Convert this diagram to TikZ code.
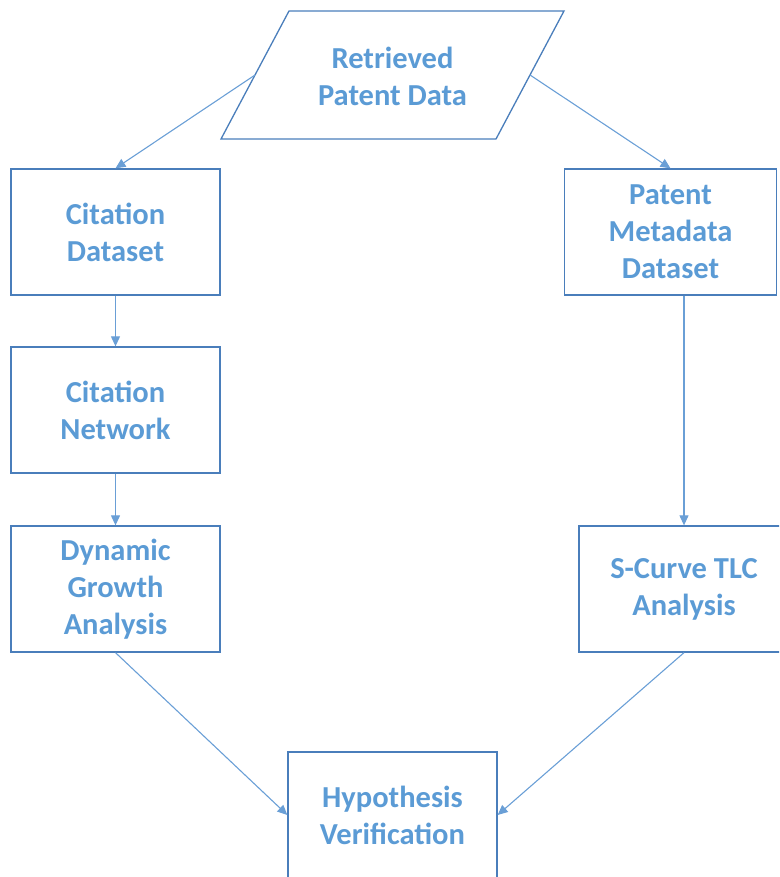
\documentclass[tikz,border=0pt]{standalone}
\usepackage{fontspec}
\setmainfont{Carlito}
\usetikzlibrary{arrows.meta}
\definecolor{boxline}{HTML}{4A7EBB}
\definecolor{arrline}{HTML}{6A9FD6}
\definecolor{txt}{HTML}{5B9BD5}
\tikzset{
  flowbox/.style={draw=boxline, line width=1.3pt, minimum width=209pt, minimum height=126pt, inner sep=0pt, align=center, text=txt, font=\fontsize{30.5}{37}\selectfont\bfseries},
  flowtext/.style={inner sep=0pt, align=center, text=txt, font=\fontsize{30.5}{37}\selectfont\bfseries},
  flowarrow/.style={draw=arrline, line width=1.1pt, -{Triangle[length=10pt,width=9pt]}}
}
\begin{document}
\begin{tikzpicture}[x=1pt,y=-1pt]
\useasboundingbox (0,0) rectangle (779,877);
\clip (0,0) rectangle (779,877);
% parallelogram
\coordinate (pTL) at (289,11);
\coordinate (pTR) at (564,11);
\coordinate (pBR) at (496,139);
\coordinate (pBL) at (221,139);
\draw[draw=boxline, line width=1.3pt] (pTL) -- (pTR) -- (pBR) -- (pBL) -- cycle;
\node[flowtext] (rpd) at (392.5,76) {Retrieved\\Patent Data};
\coordinate (rpdL) at (255,75);
\coordinate (rpdR) at (530,75);
% boxes
\node[flowbox] (cds) at (115.5,232) {Citation\\Dataset};
\node[flowbox] (cnw) at (115.5,410) {Citation\\Network};
\node[flowbox] (dga) at (115.5,589) {Dynamic\\Growth\\Analysis};
\node[flowbox, minimum width=212pt] (pmd) at (670.5,232) {Patent\\Metadata\\Dataset};
\node[flowbox, minimum width=210pt] (sct) at (684,589) {S-Curve TLC\\Analysis};
\node[flowbox] (hyp) at (392.5,815) {Hypothesis\\Verification};
% arrows
\draw[flowarrow] (rpdL) -- (cds.north);
\draw[flowarrow] (rpdR) -- (pmd.north);
\draw[flowarrow] (cds.south) -- (cnw.north);
\draw[flowarrow] (cnw.south) -- (dga.north);
\draw[flowarrow] (pmd.south -| sct.north) -- (sct.north);
\draw[flowarrow] (dga.south) -- (hyp.west);
\draw[flowarrow] (sct.south) -- (hyp.east);
\end{tikzpicture}
\end{document}
